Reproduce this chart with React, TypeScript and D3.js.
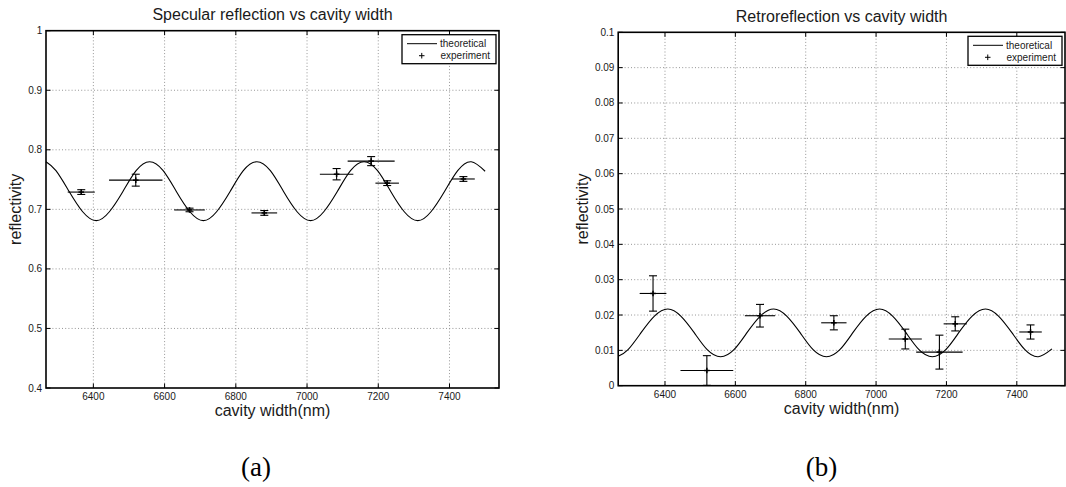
import React from "react";
import * as d3 from "d3";

// ---------- data ----------
const xTicks = [6400, 6600, 6800, 7000, 7200, 7400];

const specYTicks = [0.4, 0.5, 0.6, 0.7, 0.8, 0.9, 1];
const specYTickLabels = ["0.4", "0.5", "0.6", "0.7", "0.8", "0.9", "1"];
const retroYTicks = [0, 0.01, 0.02, 0.03, 0.04, 0.05, 0.06, 0.07, 0.08, 0.09, 0.1];
const retroYTickLabels = ["0", "0.01", "0.02", "0.03", "0.04", "0.05", "0.06", "0.07", "0.08", "0.09", "0.1"];

// theoretical curve sample points (cavity width, nm)
const theoX = [
  6267, 6295, 6332, 6370, 6408, 6445, 6483, 6520, 6558, 6596, 6633, 6671, 6709, 6746, 6784, 6821,
  6859, 6897, 6934, 6972, 7010, 7047, 7085, 7122, 7160, 7198, 7235, 7273, 7311, 7348, 7386, 7423,
  7461, 7500,
];
const specTheoY = [
  0.780, 0.765, 0.730, 0.696, 0.681, 0.696, 0.730, 0.765, 0.780, 0.765, 0.730, 0.696, 0.681, 0.696, 0.730, 0.765,
  0.780, 0.765, 0.730, 0.696, 0.681, 0.696, 0.730, 0.765, 0.780, 0.765, 0.730, 0.696, 0.681, 0.696, 0.730, 0.765,
  0.780, 0.764,
];
const retroTheoY = [
  0.0083, 0.0102, 0.0150, 0.0197, 0.0217, 0.0197, 0.0150, 0.0102, 0.0082, 0.0102, 0.0150, 0.0197, 0.0217, 0.0197, 0.0150, 0.0102,
  0.0082, 0.0102, 0.0150, 0.0197, 0.0217, 0.0197, 0.0150, 0.0102, 0.0082, 0.0102, 0.0150, 0.0197, 0.0217, 0.0197, 0.0150, 0.0102,
  0.0082, 0.0104,
];

// experiment
const expX = [6366, 6519, 6670, 6880, 7083, 7180, 7225, 7439];
const expXErr = [38, 75, 43, 36, 47, 66, 33, 32];
const specY = [0.729, 0.749, 0.699, 0.694, 0.759, 0.781, 0.744, 0.751];
const specYErr = [0.004, 0.010, 0.003, 0.004, 0.0095, 0.0076, 0.004, 0.004];
const retroY = [0.0261, 0.0043, 0.0198, 0.0178, 0.0132, 0.0095, 0.0175, 0.0152];
const retroYErr = [0.005, 0.0042, 0.0032, 0.002, 0.0028, 0.0048, 0.002, 0.002];

const FONT = "'Liberation Sans', Arial, Helvetica, sans-serif";
const TXT = "#1a1a1a";

type PanelProps = {
  L: number; R: number; T: number; B: number;
  xDomain: [number, number];
  yDomain: [number, number];
  yTicks: number[];
  yTickLabels: string[];
  theoY: number[];
  ey: number[];
  eyErr: number[];
  title: string;
  caption: string;
  captionX: number;
  yLabelX: number;
};

function Panel(p: PanelProps) {
  const x = d3.scaleLinear().domain(p.xDomain).range([p.L, p.R]);
  const y = d3.scaleLinear().domain(p.yDomain).range([p.B, p.T]);
  const line = d3
    .line<number>()
    .x((_, i) => x(theoX[i]))
    .y((d) => y(d))
    .curve(d3.curveNatural);
  const tk = 4.5;
  const cap = 4;
  const cx = (p.L + p.R) / 2;
  const cy = (p.T + p.B) / 2;
  const grid = { stroke: "#8a8a8a", strokeWidth: 0.9, strokeDasharray: "1 2.2" };

  // legend geometry
  const lgR = p.R - 3;
  const lgW = 94;
  const lgL = lgR - lgW;
  const lgT = p.T + 4;
  const lgH = 29;

  return (
    <g>
      {/* grid */}
      {xTicks.map((t) => (
        <line key={"gx" + t} x1={x(t)} x2={x(t)} y1={p.T} y2={p.B} {...grid} />
      ))}
      {p.yTicks
        .filter((t) => y(t) > p.T + 1 && y(t) < p.B - 1)
        .map((t) => (
          <line key={"gy" + t} x1={p.L} x2={p.R} y1={y(t)} y2={y(t)} {...grid} />
        ))}

      {/* theoretical curve */}
      <path d={line(p.theoY) || ""} fill="none" stroke="#000" strokeWidth={1.1} />

      {/* experiment error bars */}
      {expX.map((xv, i) => {
        const px = x(xv);
        const py = y(p.ey[i]);
        const y1 = y(p.ey[i] + p.eyErr[i]);
        const y2 = y(p.ey[i] - p.eyErr[i]);
        return (
          <g key={"e" + i} stroke="#000" strokeWidth={1.1}>
            <line x1={px} x2={px} y1={y1} y2={y2} />
            <line x1={px - cap} x2={px + cap} y1={y1} y2={y1} />
            <line x1={px - cap} x2={px + cap} y1={y2} y2={y2} />
            <line x1={x(xv - expXErr[i])} x2={x(xv + expXErr[i])} y1={py} y2={py} />
            <line x1={px - 2.8} x2={px + 2.8} y1={py} y2={py} strokeWidth={1.5} />
            <line x1={px} x2={px} y1={py - 2.8} y2={py + 2.8} strokeWidth={1.5} />
          </g>
        );
      })}

      {/* ticks */}
      {xTicks.map((t) => (
        <g key={"tx" + t} stroke="#000" strokeWidth={1}>
          <line x1={x(t)} x2={x(t)} y1={p.B} y2={p.B - tk} />
          <line x1={x(t)} x2={x(t)} y1={p.T} y2={p.T + tk} />
        </g>
      ))}
      {p.yTicks.map((t) => (
        <g key={"ty" + t} stroke="#000" strokeWidth={1}>
          <line x1={p.L} x2={p.L + tk} y1={y(t)} y2={y(t)} />
          <line x1={p.R} x2={p.R - tk} y1={y(t)} y2={y(t)} />
        </g>
      ))}

      {/* box */}
      <rect x={p.L} y={p.T} width={p.R - p.L} height={p.B - p.T} fill="none" stroke="#000" strokeWidth={1.6} />

      {/* tick labels */}
      {xTicks.map((t) => (
        <text key={"lx" + t} x={x(t)} y={p.B + 12.3} textAnchor="middle" fontFamily={FONT} fontSize={10} fill={TXT}>
          {t}
        </text>
      ))}
      {p.yTicks.map((t, i) => (
        <text key={"ly" + t} x={p.L - 3.8} y={y(t)} dy="0.35em" textAnchor="end" fontFamily={FONT} fontSize={10} fill={TXT}>
          {p.yTickLabels[i]}
        </text>
      ))}

      {/* axis labels & title */}
      <text x={cx} y={p.T - 10.5} textAnchor="middle" fontFamily={FONT} fontSize={16} fill={TXT}>
        {p.title}
      </text>
      <text x={cx} y={p.B + 27.8} textAnchor="middle" fontFamily={FONT} fontSize={16} fill={TXT}>
        cavity width(nm)
      </text>
      <text
        transform={`translate(${p.yLabelX},${cy}) rotate(-90)`}
        textAnchor="middle"
        fontFamily={FONT}
        fontSize={16}
        fill={TXT}
      >
        reflectivity
      </text>

      {/* legend */}
      <rect x={lgL} y={lgT} width={lgW} height={lgH} fill="#fff" stroke="#000" strokeWidth={1.3} />
      <line x1={lgL + 5} x2={lgL + 35} y1={lgT + 9} y2={lgT + 9} stroke="#000" strokeWidth={1} />
      <text x={lgL + 38} y={lgT + 12.5} fontFamily={FONT} fontSize={10} fill={TXT}>
        theoretical
      </text>
      <g stroke="#000" strokeWidth={1}>
        <line x1={lgL + 17} x2={lgL + 22.5} y1={lgT + 21} y2={lgT + 21} />
        <line x1={lgL + 19.75} x2={lgL + 19.75} y1={lgT + 18.2} y2={lgT + 23.8} />
      </g>
      <text x={lgL + 38.5} y={lgT + 24.5} fontFamily={FONT} fontSize={10} fill={TXT}>
        experiment
      </text>

      {/* caption */}
      <text x={p.captionX} y={476} textAnchor="middle" fontFamily="'Liberation Serif', 'Times New Roman', serif" fontSize={27} fill="#000">
        {p.caption}
      </text>
    </g>
  );
}

export default function App() {
  React.useEffect(() => {
    document.body.style.margin = "0";
  }, []);
  return (
    <svg
      width={1066}
      height={487}
      viewBox="0 0 1066 487"
      style={{ position: "absolute", left: 0, top: 0, background: "#fff" }}
    >
      <rect x={0} y={0} width={1066} height={487} fill="#fff" />
      <Panel
        L={46}
        R={499}
        T={30.7}
        B={388}
        xDomain={[6267, 7539]}
        yDomain={[0.4, 1]}
        yTicks={specYTicks}
        yTickLabels={specYTickLabels}
        theoY={specTheoY}
        ey={specY}
        eyErr={specYErr}
        title="Specular reflection vs cavity width"
        caption="(a)"
        captionX={256}
        yLabelX={21}
      />
      <Panel
        L={618.2}
        R={1065}
        T={32.3}
        B={385.7}
        xDomain={[6267, 7537]}
        yDomain={[0, 0.1]}
        yTicks={retroYTicks}
        yTickLabels={retroYTickLabels}
        theoY={retroTheoY}
        ey={retroY}
        eyErr={retroYErr}
        title="Retroreflection vs cavity width"
        caption="(b)"
        captionX={821.5}
        yLabelX={587.5}
      />
    </svg>
  );
}
